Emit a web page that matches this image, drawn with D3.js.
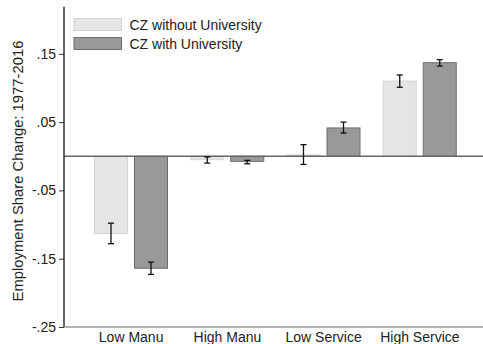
<!DOCTYPE html>
<html>
<head>
<meta charset="utf-8">
<script src="https://cdn.jsdelivr.net/npm/d3@7"></script>
<style>
  body { margin: 0; background: #fff; }
  svg { display: block; font-family: "Liberation Sans", Arial, sans-serif; }
</style>
</head>
<body>
<svg id="chart"></svg>
<script>
const categories = ["Low Manu", "High Manu", "Low Service", "High Service"];
const series = ["CZ without University", "CZ with University"];
const withoutUni = [-0.113, -0.005, 0.002, 0.110];
const withUni = [-0.164, -0.0075, 0.0415, 0.137];
const withoutLo = [-0.128, -0.010, -0.012, 0.101];
const withoutHi = [-0.098, -0.001, 0.017, 0.119];
const withLo = [-0.173, -0.011, 0.034, 0.132];
const withHi = [-0.155, -0.006, 0.050, 0.1415];
const yTicks = [0.15, 0.05, -0.05, -0.15, -0.25];
const yTickLabels = [".15", ".05", "-.05", "-.15", "-.25"];

const width = 483;
const height = 344;
const fills = ["#e5e5e5", "#999999"];
const strokes = ["#d4d4d4", "#6f6f6f"];

const rows = [];
categories.forEach((c, i) => {
  rows.push({ cat: c, s: series[0], v: withoutUni[i], lo: withoutLo[i], hi: withoutHi[i] });
  rows.push({ cat: c, s: series[1], v: withUni[i], lo: withLo[i], hi: withHi[i] });
});

const svg = d3.select("#chart")
  .attr("width", width)
  .attr("height", height);

const x = d3.scaleBand()
  .domain(categories)
  .range([83, 468]);

const xs = d3.scaleBand()
  .domain(series)
  .range([11.5, 84.5])
  .paddingInner(0.175);

const y = d3.scaleLinear()
  .domain([-0.25, 0.219])
  .range([327, 6.7]);

const color = d3.scaleOrdinal().domain(series).range(fills);
const edge = d3.scaleOrdinal().domain(series).range(strokes);

// bars
svg.append("g")
  .selectAll("rect")
  .data(rows)
  .enter()
  .append("rect")
  .attr("x", d => x(d.cat) + xs(d.s))
  .attr("width", xs.bandwidth())
  .attr("y", d => y(Math.max(0, d.v)))
  .attr("height", d => Math.abs(y(d.v) - y(0)))
  .attr("fill", d => color(d.s))
  .attr("stroke", d => edge(d.s))
  .attr("stroke-width", 1);

// zero line
svg.append("line")
  .attr("x1", 64).attr("x2", width)
  .attr("y1", y(0)).attr("y2", y(0))
  .attr("stroke", "#666").attr("stroke-width", 1.5);

// error bars
const err = svg.append("g")
  .attr("stroke", "#111")
  .attr("stroke-width", 1.3);

const cx = d => x(d.cat) + xs(d.s) + xs.bandwidth() / 2;

err.selectAll(".stem")
  .data(rows)
  .enter()
  .append("line")
  .attr("x1", cx).attr("x2", cx)
  .attr("y1", d => y(d.lo)).attr("y2", d => y(d.hi));

err.selectAll(".caplo")
  .data(rows)
  .enter()
  .append("line")
  .attr("x1", d => cx(d) - 3).attr("x2", d => cx(d) + 3)
  .attr("y1", d => y(d.lo)).attr("y2", d => y(d.lo));

err.selectAll(".caphi")
  .data(rows)
  .enter()
  .append("line")
  .attr("x1", d => cx(d) - 3).attr("x2", d => cx(d) + 3)
  .attr("y1", d => y(d.hi)).attr("y2", d => y(d.hi));

// y axis
const yAxis = svg.append("g")
  .attr("transform", "translate(64,0)")
  .call(d3.axisLeft(y)
    .tickValues(yTicks)
    .tickSize(5)
    .tickPadding(3)
    .tickFormat((d, i) => yTickLabels[i]));
yAxis.select(".domain").remove();
yAxis.selectAll(".tick line").attr("stroke", "#333");
yAxis.selectAll("text")
  .attr("font-size", 14)
  .attr("font-family", "Liberation Sans, Arial, sans-serif")
  .attr("fill", "#222");

svg.append("line")
  .attr("x1", 64).attr("x2", 64)
  .attr("y1", 6.7).attr("y2", 327)
  .attr("stroke", "#000").attr("stroke-width", 1.2);

// x axis
const xAxis = svg.append("g")
  .attr("transform", "translate(0,327)")
  .call(d3.axisBottom(x).tickSize(0).tickPadding(5));
xAxis.select(".domain").remove();
xAxis.selectAll("text")
  .attr("font-size", 14)
  .attr("font-family", "Liberation Sans, Arial, sans-serif")
  .attr("fill", "#222")
  .attr("dy", "0.68em");

svg.append("line")
  .attr("x1", 64).attr("x2", width)
  .attr("y1", 327).attr("y2", 327)
  .attr("stroke", "#666").attr("stroke-width", 1.2);

// y title
svg.append("text")
  .attr("transform", "translate(22.5,171) rotate(-90)")
  .attr("text-anchor", "middle")
  .attr("font-size", 14.8)
  .attr("fill", "#222")
  .text("Employment Share Change: 1977-2016");

// legend
const legend = svg.append("g")
  .selectAll("g")
  .data(series)
  .enter()
  .append("g")
  .attr("transform", (d, i) => `translate(74,${18.5 + i * 19})`);

legend.append("rect")
  .attr("width", 47.5)
  .attr("height", 12)
  .attr("fill", d => color(d))
  .attr("stroke", d => edge(d));

legend.append("text")
  .attr("x", 55.5)
  .attr("y", 6)
  .attr("dy", "0.36em")
  .attr("font-size", 14)
  .attr("fill", "#222")
  .text(d => d);
</script>
</body>
</html>
